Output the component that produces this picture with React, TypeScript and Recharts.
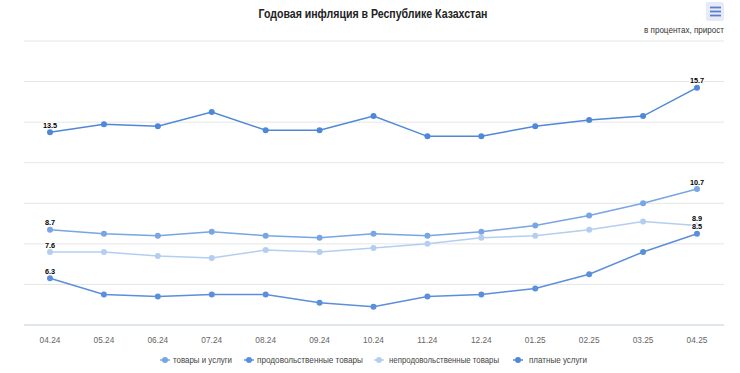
import React from 'react';
import { LineChart, Line, XAxis, YAxis, CartesianGrid, LabelList } from 'recharts';

const months = ['04.24', '05.24', '06.24', '07.24', '08.24', '09.24', '10.24', '11.24', '12.24', '01.25', '02.25', '03.25', '04.25'];
const goodsServices = [8.7, 8.5, 8.4, 8.6, 8.4, 8.3, 8.5, 8.4, 8.6, 8.9, 9.4, 10.0, 10.7];
const food = [6.3, 5.5, 5.4, 5.5, 5.5, 5.1, 4.9, 5.4, 5.5, 5.8, 6.5, 7.6, 8.5];
const nonFood = [7.6, 7.6, 7.4, 7.3, 7.7, 7.6, 7.8, 8.0, 8.3, 8.4, 8.7, 9.1, 8.9];
const services = [13.5, 13.9, 13.8, 14.5, 13.6, 13.6, 14.3, 13.3, 13.3, 13.8, 14.1, 14.3, 15.7];
const yTicks = [4, 6, 8, 10, 12, 14, 16, 18];

const seriesNames = ['товары и услуги', 'продовольственные товары', 'непродовольственные товары', 'платные услуги'];
const seriesKeys = ['gs', 'food', 'nonFood', 'services'];
const seriesColors = ['#78a5e4', '#5b8fdb', '#b4cef0', '#4f88d8'];

const title = 'Годовая инфляция в Республике Казахстан';
const subtitle = 'в процентах, прирост';

const data = months.map((m, i) => ({
  month: m,
  gs: goodsServices[i],
  food: food[i],
  nonFood: nonFood[i],
  services: services[i],
}));

const FONT = '"Liberation Sans", Arial, sans-serif';
const lastIndex = months.length - 1;

const EdgeLabel = (props: any) => {
  const { x, y, value, index } = props;
  if (index !== 0 && index !== lastIndex) return null;
  return (
    <text
      x={x}
      y={y - 7}
      dy="0.35em"
      textAnchor="middle"
      fontFamily={FONT}
      fontSize={7.3}
      fontWeight="bold"
      fill="#000"
      stroke="#fff"
      strokeWidth={2}
      paintOrder="stroke"
    >
      {Number(value).toFixed(1)}
    </text>
  );
};

// legend layout (symbol centre, text start, text length)
const legendLayout = [
  { cx: 165, tx: 173, tl: 59 },
  { cx: 249, tx: 257, tl: 106 },
  { cx: 379, tx: 389, tl: 110 },
  { cx: 518, tx: 529, tl: 58 },
];

export default function App() {
  return (
    <div style={{ position: 'absolute', left: 0, top: 0, width: 740, height: 373, background: '#fff' }}>
      <LineChart width={740} height={373} data={data} margin={{ top: 41, right: 16, left: 24, bottom: 28 }}>
        <CartesianGrid vertical={false} stroke="#e6e6e6" />
        <YAxis hide domain={[4, 18]} ticks={yTicks} width={0} />
        <XAxis
          dataKey="month"
          height={20}
          padding={{ left: 26, right: 27 }}
          axisLine={{ stroke: '#ccd6eb' }}
          tickLine={false}
          tickMargin={6}
          tick={{ fontSize: 8.3, fill: '#666', fontFamily: FONT }}
          interval={0}
        />
        {seriesKeys.map((k, i) => (
          <Line
            key={k}
            type="linear"
            dataKey={k}
            name={seriesNames[i]}
            stroke={seriesColors[i]}
            strokeWidth={1.5}
            dot={{ r: 3, fill: seriesColors[i], stroke: 'none' }}
            activeDot={false}
            isAnimationActive={false}
          >
            <LabelList dataKey={k} content={EdgeLabel} />
          </Line>
        ))}
      </LineChart>
      <svg
        width={740}
        height={373}
        style={{ position: 'absolute', left: 0, top: 0, pointerEvents: 'none' }}
      >
        <text
          x={373}
          y={14}
          dy="0.35em"
          textAnchor="middle"
          fontFamily={FONT}
          fontSize={12}
          fontWeight="bold"
          fill="#222"
          textLength={229}
          lengthAdjust="spacingAndGlyphs"
        >
          {title}
        </text>
        <text
          x={724}
          y={30}
          dy="0.35em"
          textAnchor="end"
          fontFamily={FONT}
          fontSize={8.5}
          fill="#333"
          textLength={80}
          lengthAdjust="spacingAndGlyphs"
        >
          {subtitle}
        </text>
        <rect x={706} y={2} width={18} height={19} rx={2} fill="#e6ebf5" />
        <line x1={710} x2={721} y1={7.5} y2={7.5} stroke="#5a7fd0" strokeWidth={1.8} />
        <line x1={710} x2={721} y1={11.5} y2={11.5} stroke="#5a7fd0" strokeWidth={1.8} />
        <line x1={710} x2={721} y1={15.5} y2={15.5} stroke="#5a7fd0" strokeWidth={1.8} />
        {legendLayout.map((l, i) => (
          <g key={i}>
            <line x1={l.cx - 5} x2={l.cx + 5} y1={360} y2={360} stroke={seriesColors[i]} strokeWidth={1.5} />
            <circle cx={l.cx} cy={360} r={3} fill={seriesColors[i]} />
            <text
              x={l.tx}
              y={360}
              dy="0.35em"
              fontFamily={FONT}
              fontSize={8.3}
              fill="#444"
              textLength={l.tl}
              lengthAdjust="spacingAndGlyphs"
            >
              {seriesNames[i]}
            </text>
          </g>
        ))}
      </svg>
    </div>
  );
}
